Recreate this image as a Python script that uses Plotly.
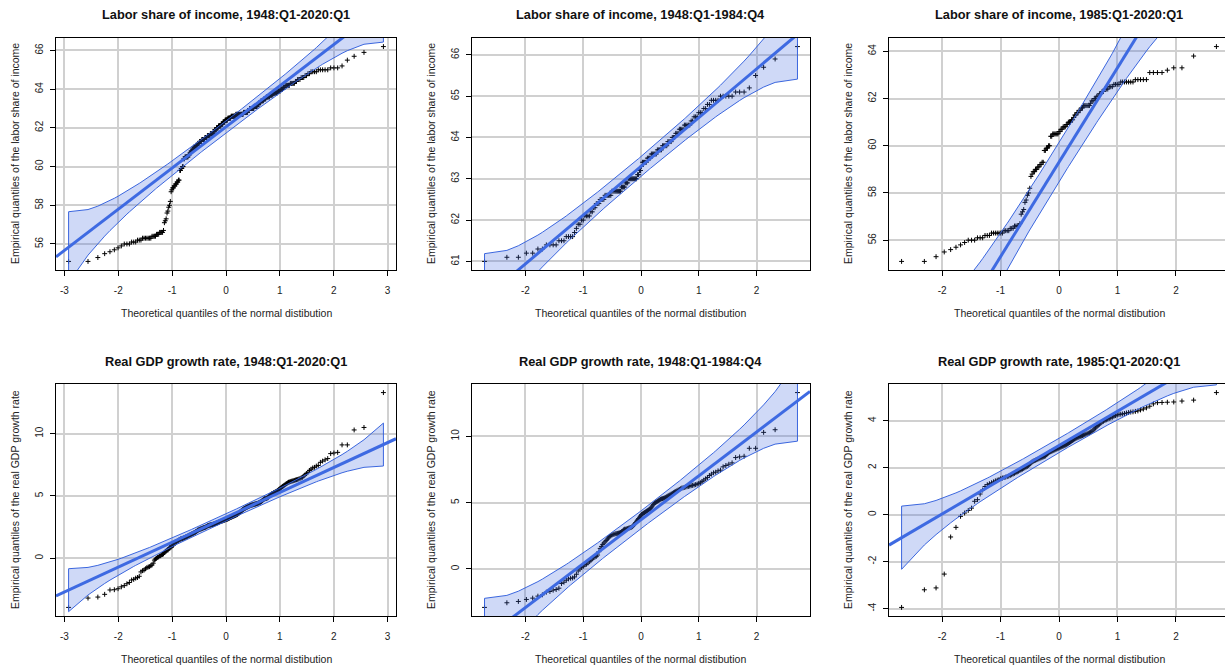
import math
from statistics import NormalDist
import plotly.graph_objects as go

# ---------------- data ----------------
# Labor share of income, 1948:Q1-1984:Q4 (values rounded to 0.1, with counts)
labor_early_levels = [61.0, 61.1, 61.2, 61.3, 61.4, 61.5, 61.6, 61.7, 61.8, 61.9,
                      62.0, 62.1, 62.2, 62.3, 62.4, 62.5, 62.6, 62.7, 62.8, 62.9,
                      63.0, 63.1, 63.2, 63.3, 63.4, 63.5, 63.6, 63.7, 63.8, 63.9,
                      64.0, 64.1, 64.2, 64.3, 64.4, 64.5, 64.6, 64.7, 64.8, 64.9,
                      65.0, 65.1, 65.2, 65.5, 65.7, 65.9, 66.2]
labor_early_counts = [1, 2, 2, 2, 4, 3, 4, 1, 1, 2,
                      2, 4, 2, 2, 3, 4, 6, 9, 4, 3,
                      9, 2, 2, 1, 5, 4, 6, 5, 5, 4,
                      3, 3, 4, 5, 2, 3, 3, 2, 2, 4,
                      5, 3, 1, 1, 1, 1, 1]

# Labor share of income, 1985:Q1-2020:Q1
labor_late_levels = [55.1, 55.3, 55.5, 55.6, 55.7, 55.8, 55.9, 56.0, 56.1, 56.2,
                     56.3, 56.4, 56.5, 56.6, 56.7, 57.1, 57.2, 57.3, 57.6, 57.7,
                     57.9, 58.0, 58.2, 58.7, 58.8, 58.9, 59.0, 59.1, 59.2, 59.3,
                     59.8, 59.9, 60.0, 60.4, 60.5, 60.6, 60.7, 60.8, 60.9, 61.0,
                     61.1, 61.2, 61.3, 61.4, 61.5, 61.6, 61.7, 61.8, 61.9, 62.0,
                     62.1, 62.2, 62.3, 62.4, 62.5, 62.6, 62.7, 62.8, 63.1, 63.2,
                     63.3, 63.8, 64.2]
labor_late_counts = [2, 1, 1, 1, 1, 1, 1, 3, 3, 3,
                     7, 4, 3, 4, 1, 1, 1, 1, 1, 1,
                     1, 1, 1, 1, 1, 2, 2, 2, 2, 2,
                     2, 2, 2, 2, 6, 2, 2, 3, 2, 3,
                     2, 1, 2, 2, 2, 2, 6, 1, 2, 2,
                     2, 2, 2, 3, 3, 4, 7, 5, 4, 1,
                     2, 1, 1]

# Real GDP growth rate, 1948:Q1-1984:Q4 (sorted)
gdp_early = [-2.9, -2.55, -2.45, -2.3, -2.2, -2.05, -1.95, -1.75, -1.7, -1.6,
             -1.55, -1.45, -1.1, -1.0, -0.85, -0.75, -0.7, -0.68, -0.6, -0.4,
             -0.15, 0.0, 0.1, 0.2, 0.3, 0.35, 0.45, 0.55, 0.65, 0.75,
             0.85, 0.9, 0.95, 1.05, 1.3, 1.55, 1.7, 1.85, 1.95, 2.05,
             2.15, 2.25, 2.35, 2.45, 2.5, 2.55, 2.6, 2.62, 2.65, 2.66,
             2.68, 2.7, 2.72, 2.75, 2.8, 2.85, 2.95, 3.0, 3.0, 3.02,
             3.05, 3.08, 3.1, 3.12, 3.15, 3.2, 3.3, 3.4, 3.5, 3.6,
             3.7, 3.8, 3.9, 4.0,
             4.1, 4.15, 4.2, 4.25, 4.3, 4.35, 4.4, 4.45, 4.5, 4.55,
             4.65, 4.75, 4.85, 4.95, 5.0, 5.05, 5.1, 5.15, 5.2, 5.25,
             5.28, 5.3, 5.33, 5.36, 5.4, 5.45, 5.5, 5.55, 5.6, 5.65,
             5.7, 5.75, 5.8, 5.85, 5.9, 5.95, 6.0, 6.05, 6.1, 6.12,
             6.15, 6.18, 6.2, 6.22, 6.25, 6.28, 6.3, 6.33, 6.36, 6.4,
             6.45, 6.5, 6.6, 6.7, 6.8, 6.9, 7.05, 7.15, 7.25, 7.3,
             7.4, 7.45, 7.7, 7.8, 7.9, 8.0, 8.4, 8.45, 8.5, 9.1,
             9.1, 10.3, 10.5, 13.3]

# Real GDP growth rate, 1985:Q1-2020:Q1 (sorted)
gdp_late = [-3.95, -3.2, -3.12, -2.53, -0.95, -0.54, -0.07, 0.07, 0.18, 0.28,
            0.57, 0.64, 0.88, 1.05, 1.2, 1.28, 1.32, 1.36, 1.4, 1.44,
            1.47, 1.5, 1.54, 1.56, 1.58, 1.6, 1.62, 1.64, 1.67, 1.7,
            1.73, 1.76, 1.79, 1.82, 1.85, 1.88, 1.91, 1.94, 1.97, 2.0,
            2.03, 2.06, 2.1, 2.15, 2.2, 2.25, 2.28, 2.3, 2.32, 2.34,
            2.36, 2.38, 2.4, 2.42, 2.44, 2.46, 2.48, 2.5, 2.55, 2.6,
            2.63, 2.66, 2.68, 2.7, 2.72, 2.74, 2.76, 2.78, 2.8, 2.82,
            2.84,
            2.86, 2.88, 2.9, 2.92, 2.94, 2.96, 2.98, 3.01, 3.04, 3.07,
            3.1, 3.13, 3.16, 3.19, 3.22, 3.25, 3.27, 3.29, 3.31, 3.33,
            3.35, 3.37, 3.39, 3.41, 3.43, 3.45, 3.47, 3.49, 3.52, 3.55,
            3.6, 3.65, 3.7, 3.75, 3.8, 3.85, 3.9, 3.95, 3.98, 4.01,
            4.04, 4.07, 4.1, 4.12, 4.15, 4.19, 4.22, 4.25, 4.27, 4.28,
            4.29, 4.31, 4.33, 4.35, 4.37, 4.38, 4.4, 4.42, 4.46, 4.5,
            4.55, 4.62, 4.72, 4.77, 4.78, 4.79, 4.8, 4.84, 4.88, 5.2]

titles = ["Labor share of income, 1948:Q1-2020:Q1",
          "Labor share of income, 1948:Q1-1984:Q4",
          "Labor share of income, 1985:Q1-2020:Q1",
          "Real GDP growth rate, 1948:Q1-2020:Q1",
          "Real GDP growth rate, 1948:Q1-1984:Q4",
          "Real GDP growth rate, 1985:Q1-2020:Q1"]
y_titles = ["Empirical quantiles of the labor share of income"] * 3 + \
           ["Empirical quantiles of the real GDP growth rate"] * 3
x_title = "Theoretical quantiles of the normal distibution"

# reference lines (intercept, slope) as drawn in the figure
line_intercepts = [62.05, 63.30, 59.30, 3.28, 3.71, 2.947]
line_slopes = [2.126, 1.18, 4.00, 2.00, 3.31, 1.459]

y_tick_vals = [[56, 58, 60, 62, 64, 66], [61, 62, 63, 64, 65, 66], [56, 58, 60, 62, 64],
               [0, 5, 10], [0, 5, 10], [-4, -2, 0, 2, 4]]
x_tick_vals = [[-3, -2, -1, 0, 1, 2, 3], [-2, -1, 0, 1, 2], [-2, -1, 0, 1, 2],
               [-3, -2, -1, 0, 1, 2, 3], [-2, -1, 0, 1, 2], [-2, -1, 0, 1, 2]]

# ---------------- build series ----------------
def expand(levels, counts):
    return [v for v, c in zip(levels, counts) for _ in range(c)]

labor_early = expand(labor_early_levels, labor_early_counts)
labor_late = expand(labor_late_levels, labor_late_counts)
series = [labor_early + labor_late, labor_early, labor_late,
          gdp_early + gdp_late, gdp_early, gdp_late]

nd = NormalDist()
zz = nd.inv_cdf(0.975)

W, H = 1225, 669
box_left = [56, 472, 889]
box_right = [396, 810, 1229]
row_top = [38, 384]
row_bottom = [270, 616]

FONT = "Liberation Sans, Arial, sans-serif"
LINE_COL = "rgb(62,106,226)"
BAND_FILL = "rgba(65,105,225,0.25)"
BAND_EDGE = "rgba(50,95,220,0.95)"

fig = go.Figure()
layout = dict(width=W, height=H, margin=dict(l=0, r=0, t=0, b=0),
              paper_bgcolor="white", plot_bgcolor="white", showlegend=False,
              annotations=[])

for k, vals in enumerate(series):
    v = sorted(vals)
    n = len(v)
    p = [(i + 0.5) / n for i in range(n)]
    z = [nd.inv_cdf(pi) for pi in p]
    a, b = line_intercepts[k], line_slopes[k]
    fit = [a + b * zi for zi in z]
    se = [b / nd.pdf(zi) * math.sqrt(pi * (1 - pi) / n) for zi, pi in zip(z, p)]
    upper = [f + zz * s for f, s in zip(fit, se)]
    lower = [f - zz * s for f, s in zip(fit, se)]

    col, row = k % 3, k // 3
    l, r = box_left[col], box_right[col]
    t, btm = row_top[row], row_bottom[row]
    r_vis = min(r, W)

    # R style 4% range extension
    zx0, zx1 = z[0] - 0.04 * (z[-1] - z[0]), z[-1] + 0.04 * (z[-1] - z[0])
    zx1 = zx0 + (zx1 - zx0) * (r_vis - l) / (r - l)
    yr0, yr1 = v[0] - 0.04 * (v[-1] - v[0]), v[-1] + 0.04 * (v[-1] - v[0])

    sx = "" if k == 0 else str(k + 1)
    xa, ya = "x" + sx, "y" + sx

    fig.add_trace(go.Scatter(x=z, y=v, mode="markers", xaxis=xa, yaxis=ya,
                             marker=dict(symbol="cross-thin", size=3.5, color="black",
                                         line=dict(width=1, color="black")),
                             hoverinfo="x+y"))
    fig.add_trace(go.Scatter(x=z + z[::-1] + [z[0]], y=upper + lower[::-1] + [upper[0]],
                             mode="lines", fill="toself", fillcolor=BAND_FILL,
                             line=dict(color=BAND_EDGE, width=1),
                             xaxis=xa, yaxis=ya, hoverinfo="skip"))
    fig.add_trace(go.Scatter(x=[zx0, zx1], y=[a + b * zx0, a + b * zx1], mode="lines",
                             line=dict(color=LINE_COL, width=3),
                             xaxis=xa, yaxis=ya, hoverinfo="skip"))

    common = dict(showline=True, mirror=True, linecolor="black", linewidth=1,
                  ticks="outside", ticklen=5, tickcolor="black", tickwidth=1,
                  showgrid=True, gridcolor="#d0d0d0", gridwidth=1.5, zeroline=False,
                  tickfont=dict(family=FONT, size=10, color="#222"))
    layout["xaxis" + sx] = dict(common, domain=[l / W, r_vis / W], range=[zx0, zx1],
                                anchor=ya, tickvals=x_tick_vals[k],
                                ticktext=[str(t_) for t_ in x_tick_vals[k]],
                                ticklabelstandoff=6)
    layout["yaxis" + sx] = dict(common, domain=[1 - btm / H, 1 - t / H], range=[yr0, yr1],
                                anchor=xa, tickvals=y_tick_vals[k],
                                ticktext=[str(t_) for t_ in y_tick_vals[k]],
                                tickangle=-90, ticklabelstandoff=3)

    cx = (l + r) / 2
    layout["annotations"].append(dict(
        text="<b>" + titles[k] + "</b>", x=cx / W, y=1 - (t - 23) / H,
        xref="paper", yref="paper", xanchor="center", yanchor="middle",
        showarrow=False, font=dict(family=FONT, size=12.8, color="#111")))
    layout["annotations"].append(dict(
        text=x_title, x=cx / W, y=1 - (btm + 43) / H,
        xref="paper", yref="paper", xanchor="center", yanchor="middle",
        showarrow=False, font=dict(family=FONT, size=10.5, color="#222")))
    layout["annotations"].append(dict(
        text=y_titles[k], x=(l - 41) / W, y=1 - ((t + btm) / 2) / H,
        xref="paper", yref="paper", xanchor="center", yanchor="middle",
        textangle=-90, showarrow=False, font=dict(family=FONT, size=10.5, color="#222")))

fig.update_layout(**layout)
fig.write_html("out.html", config={"displayModeBar": False},
               post_script="document.body.style.margin='0px';"
                           "document.body.style.overflow='hidden';")
